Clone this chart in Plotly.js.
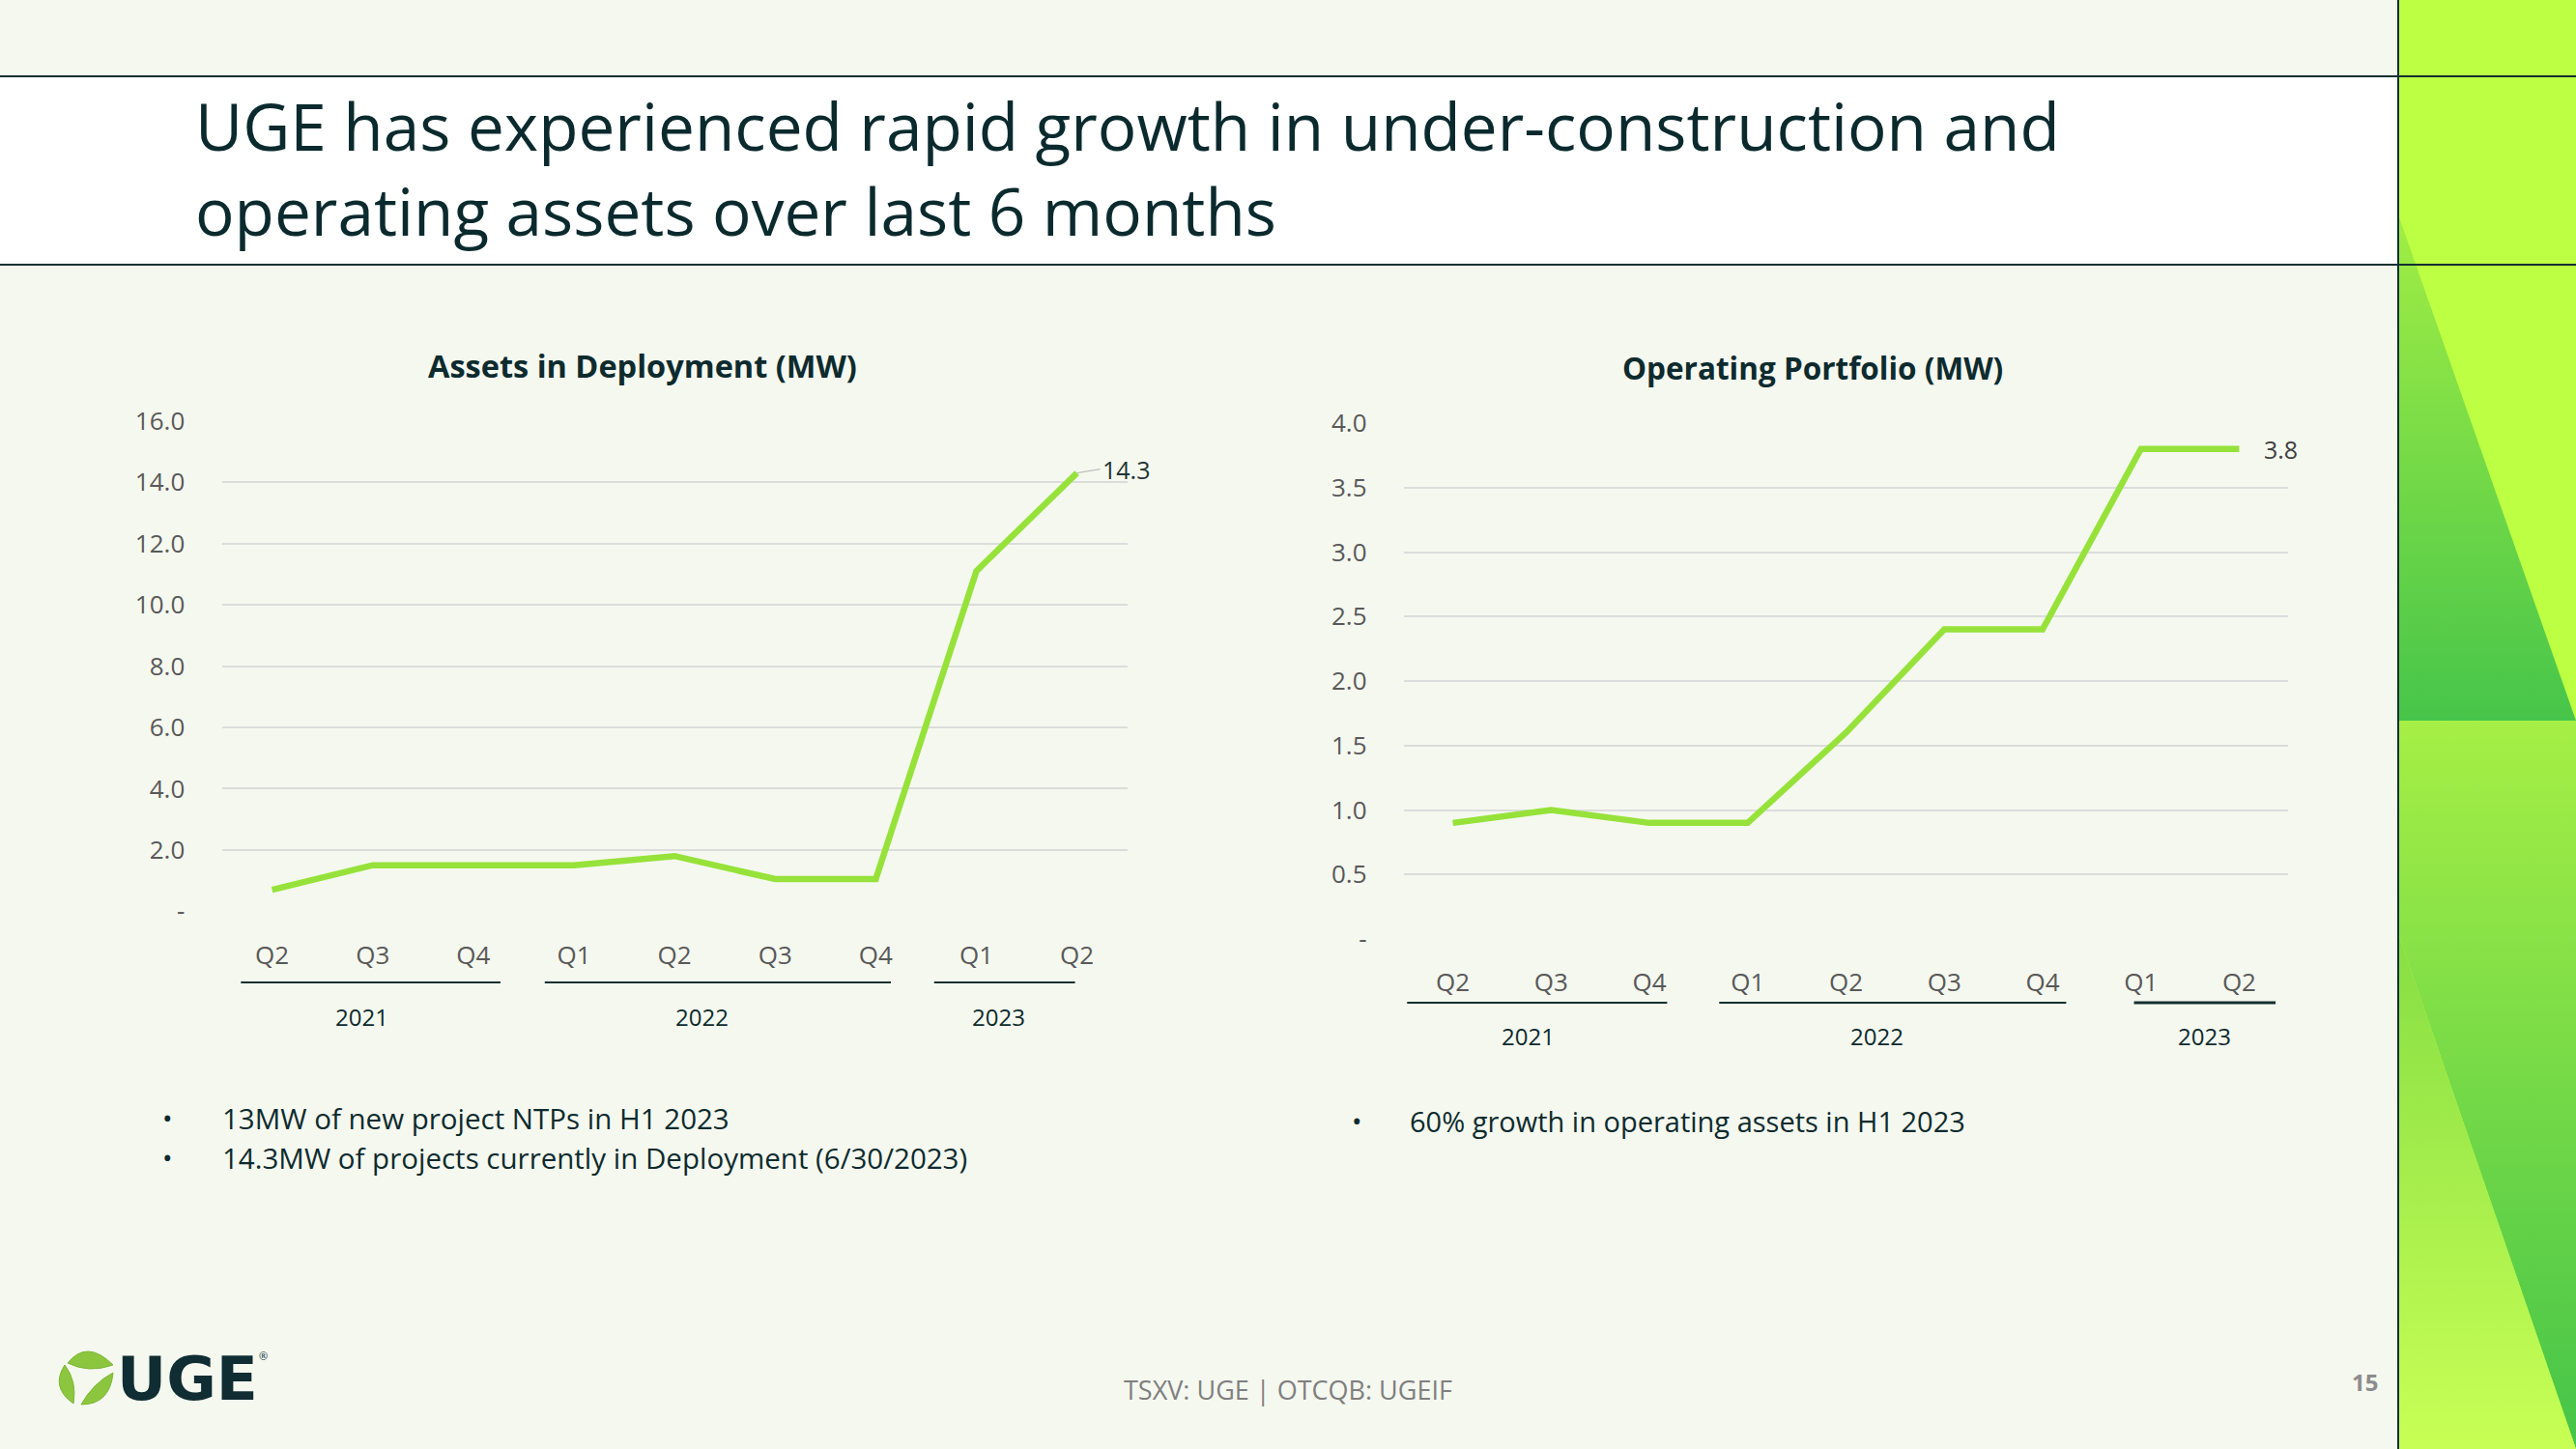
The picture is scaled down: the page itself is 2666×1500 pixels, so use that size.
<!DOCTYPE html>
<html>
<head>
<meta charset="utf-8">
<script src="https://cdn.plot.ly/plotly-3.0.1.min.js"></script>
<style>
  html, body { margin: 0; padding: 0; background: #F5F8EF; }
  #chart { width: 2666px; height: 1500px; }
</style>
</head>
<body>
<div id="chart"></div>
<script>
// ---------------- DATA ----------------
const quarters = ['Q2', 'Q3', 'Q4', 'Q1', 'Q2', 'Q3', 'Q4', 'Q1', 'Q2'];
const years    = ['2021', '2021', '2021', '2022', '2022', '2022', '2022', '2023', '2023'];
const deploymentMW = [0.7, 1.5, 1.5, 1.5, 1.8, 1.05, 1.05, 11.1, 14.3];
const operatingMW  = [0.9, 1.0, 0.9, 0.9, 1.6, 2.4, 2.4, 3.8, 3.8];
const deployTickVals = [0, 2, 4, 6, 8, 10, 12, 14, 16];
const operTickVals   = [0, 0.5, 1, 1.5, 2, 2.5, 3, 3.5, 4];
const deployTitle = 'Assets in Deployment (MW)';
const operTitle   = 'Operating Portfolio (MW)';
const pageTitle   = 'UGE has experienced rapid growth in under-construction and<br>operating assets over last 6 months';
const leftBullets  = ['13MW of new project NTPs in H1 2023', '14.3MW of projects currently in Deployment (6/30/2023)'];
const rightBullets = ['60% growth in operating assets in H1 2023'];
const footerText = 'TSXV: UGE | OTCQB: UGEIF';
const pageNumber = '15';

// ---------------- HELPERS ----------------
const W = 2666, H = 1500;
const px = x => x / W;
const py = y => 1 - y / H;
const FONT = 'Open Sans, Noto Sans, sans-serif';
const DARK = '#0D2B2E';
const LINE_GREEN = '#96E23A';
const idx = quarters.map((_, i) => i);
const tickText = v => (v === 0 ? '-' : v.toFixed(1));

// group years -> first/last index
function groups() {
  const out = [];
  years.forEach((y, i) => {
    const g = out.find(o => o.year === y);
    if (g) g.last = i; else out.push({ year: y, first: i, last: i });
  });
  return out;
}

// ---------------- TRACES ----------------
const traces = [
  { x: idx, y: deploymentMW, xaxis: 'x', yaxis: 'y', type: 'scatter', mode: 'lines',
    line: { color: LINE_GREEN, width: 6.5, shape: 'linear' }, hoverinfo: 'skip', showlegend: false },
  { x: idx, y: operatingMW, xaxis: 'x2', yaxis: 'y2', type: 'scatter', mode: 'lines',
    line: { color: LINE_GREEN, width: 6.5 }, hoverinfo: 'skip', showlegend: false },
  // decorative right strip (page-pixel overlay axes)
  { x: [2482, 2666, 2482, 2482], y: [222, 746, 746, 222], xaxis: 'x3', yaxis: 'y3', mode: 'lines',
    line: { width: 0 }, fill: 'toself', hoverinfo: 'skip', showlegend: false,
    fillgradient: { type: 'vertical', start: 222, stop: 746, colorscale: [[0, '#A2EE44'], [1, '#47C54A']] } },
  { x: [2482, 2666, 2666, 2482, 2482], y: [746, 746, 1500, 966, 746], xaxis: 'x3', yaxis: 'y3', mode: 'lines',
    line: { width: 0 }, fill: 'toself', hoverinfo: 'skip', showlegend: false,
    fillgradient: { type: 'vertical', start: 746, stop: 1500, colorscale: [[0, '#A6EF45'], [1, '#45C449']] } },
  { x: [2482, 2666, 2482, 2482], y: [966, 1500, 1500, 966], xaxis: 'x3', yaxis: 'y3', mode: 'lines',
    line: { width: 0 }, fill: 'toself', hoverinfo: 'skip', showlegend: false,
    fillgradient: { type: 'vertical', start: 966, stop: 1500, colorscale: [[0, '#86DE44'], [1, '#C8FF55']] } }
];

// ---------------- AXES ----------------
function xAxis(domain, anchor) {
  return {
    domain, anchor, range: [-0.5, quarters.length - 0.5],
    tickmode: 'array', tickvals: idx, ticktext: quarters,
    showgrid: false, zeroline: false, showline: false,
    ticks: 'outside', ticklen: 22, tickcolor: 'rgba(0,0,0,0)',
    tickfont: { family: FONT, size: 26, color: '#595959' }, fixedrange: true
  };
}
function yAxis(domain, anchor, vals) {
  return {
    domain, anchor, range: [vals[0], vals[vals.length - 1]],
    tickmode: 'array', tickvals: vals, ticktext: vals.map(tickText),
    showgrid: true, gridcolor: '#DCDCDC', gridwidth: 2,
    zeroline: false, showline: false,
    ticks: 'outside', ticklen: 32, tickcolor: 'rgba(0,0,0,0)',
    tickfont: { family: FONT, size: 26, color: '#595959' }, fixedrange: true
  };
}

// ---------------- SHAPES & ANNOTATIONS ----------------
const shapes = [
  { type: 'rect', xref: 'paper', yref: 'paper', x0: 0, x1: px(2482), y0: py(274), y1: py(79),
    fillcolor: '#FFFFFF', line: { width: 0 }, layer: 'below' },
  { type: 'rect', xref: 'paper', yref: 'paper', x0: px(2482), x1: 1, y0: 0, y1: 1,
    fillcolor: '#BDFF42', line: { width: 0 }, layer: 'below' },
  { type: 'line', xref: 'paper', yref: 'paper', x0: 0, x1: 1, y0: py(79), y1: py(79),
    line: { color: '#12302F', width: 2 }, layer: 'above' },
  { type: 'line', xref: 'paper', yref: 'paper', x0: 0, x1: 1, y0: py(274), y1: py(274),
    line: { color: '#12302F', width: 2 }, layer: 'above' },
  { type: 'line', xref: 'paper', yref: 'paper', x0: px(2482), x1: px(2482), y0: 0, y1: 1,
    line: { color: '#12302F', width: 2 }, layer: 'above' }
];

// UGE logo leaves (page pixel coordinates -> paper)
function leaf(pts) {
  const p = pts.map(([x, y]) => px(x) + ',' + py(y));
  return 'M' + p[0] + ' Q' + p[1] + ' ' + p[2] + ' Q' + p[3] + ' ' + p[0] + ' Z';
}
[
  [[70, 1411], [90, 1386], [117, 1413], [92, 1422]],
  [[67, 1413], [52, 1436], [76, 1453], [80, 1430]],
  [[84, 1454], [114, 1454], [117, 1421], [96, 1432]]
].forEach(l => shapes.push({ type: 'path', xref: 'paper', yref: 'paper', path: leaf(l),
  fillcolor: '#8CC63F', line: { color: '#7BB734', width: 1 }, layer: 'above' }));

const annotations = [];
// style: per-group underline pads [start, end] and label offset (in category units)
function addAxisGroups(xref, labelY, lineY, style) {
  groups().forEach((g, k) => {
    const s = style[k];
    shapes.push({ type: 'line', xref, yref: 'paper',
      x0: g.first + s.pad[0], x1: g.last + s.pad[1], y0: py(lineY), y1: py(lineY),
      line: { color: '#12302F', width: s.w } });
    annotations.push({ xref, yref: 'paper', x: (g.first + g.last) / 2 + s.off, y: py(labelY),
      text: g.year, showarrow: false, xanchor: 'center', yanchor: 'middle',
      font: { family: FONT, size: 24, color: DARK } });
  });
}
addAxisGroups('x', 1052, 1017, [
  { pad: [-0.31, 0.27], off: -0.11, w: 2 },
  { pad: [-0.29, 0.15], off: -0.23, w: 2 },
  { pad: [-0.42, -0.02], off: -0.28, w: 2 }
]);
addAxisGroups('x2', 1072, 1038, [
  { pad: [-0.465, 0.18], off: -0.23, w: 2 },
  { pad: [-0.29, 0.24], off: -0.19, w: 2 },
  { pad: [-0.07, 0.37], off: 0.15, w: 3 }
]);

// chart titles
annotations.push({ xref: 'paper', yref: 'paper', x: px(665), y: py(378), text: '<b>' + deployTitle + '</b>',
  showarrow: false, xanchor: 'center', yanchor: 'middle', font: { family: FONT, size: 32.5, color: DARK } });
annotations.push({ xref: 'paper', yref: 'paper', x: px(1876), y: py(380), text: '<b>' + operTitle + '</b>',
  showarrow: false, xanchor: 'center', yanchor: 'middle', font: { family: FONT, size: 31.5, color: DARK } });

// data labels
annotations.push({ xref: 'x', yref: 'y', x: idx[idx.length - 1], y: deploymentMW[deploymentMW.length - 1],
  text: String(deploymentMW[deploymentMW.length - 1].toFixed(1)), showarrow: true, arrowhead: 0, arrowwidth: 1.5,
  arrowcolor: '#BFBFBF', ax: 24, ay: -4, xanchor: 'left', standoff: 0,
  font: { family: FONT, size: 25, color: '#1E3434' } });
annotations.push({ xref: 'x2', yref: 'y2', x: idx[idx.length - 1], y: operatingMW[operatingMW.length - 1],
  text: operatingMW[operatingMW.length - 1].toFixed(1), showarrow: false, xanchor: 'left', xshift: 24,
  font: { family: FONT, size: 25, color: '#404040' } });

// page title
annotations.push({ xref: 'paper', yref: 'paper', x: px(200), y: py(174), text: pageTitle, align: 'left',
  showarrow: false, xanchor: 'left', yanchor: 'middle', font: { family: FONT, size: 67.5, color: '#0B2A2E' } });

// bullets
function addBullets(list, bx, tx, y0, dy, size) {
  list.forEach((t, i) => {
    annotations.push({ xref: 'paper', yref: 'paper', x: px(bx), y: py(y0 + i * dy), text: '•', showarrow: false,
      xanchor: 'center', yanchor: 'middle', font: { family: FONT, size: 28, color: DARK } });
    annotations.push({ xref: 'paper', yref: 'paper', x: px(tx), y: py(y0 + i * dy), text: t, showarrow: false,
      xanchor: 'left', yanchor: 'middle', font: { family: FONT, size, color: DARK } });
  });
}
addBullets(leftBullets, 173, 228, 1157, 41, 29.5);
addBullets(rightBullets, 1404, 1457, 1160, 41, 29);

// footer
annotations.push({ xref: 'paper', yref: 'paper', x: px(1333), y: py(1438), text: footerText, showarrow: false,
  xanchor: 'center', yanchor: 'middle', font: { family: FONT, size: 27, color: '#7F7F7F' } });
annotations.push({ xref: 'paper', yref: 'paper', x: px(2447), y: py(1430), text: '<b>' + pageNumber + '</b>', showarrow: false,
  xanchor: 'center', yanchor: 'middle', font: { family: FONT, size: 24, color: '#8C8C8C' } });
// logo text
annotations.push({ xref: 'paper', yref: 'paper', x: px(119), y: py(1427), text: '<b>UGE</b>', showarrow: false,
  xanchor: 'left', yanchor: 'middle', font: { family: 'DejaVu Sans, sans-serif', size: 63, color: '#0F2D33' } });
annotations.push({ xref: 'paper', yref: 'paper', x: px(272), y: py(1403), text: '®', showarrow: false,
  xanchor: 'center', yanchor: 'middle', font: { family: FONT, size: 11, color: '#0F2D33' } });

// ---------------- LAYOUT ----------------
const layout = {
  width: W, height: H,
  margin: { l: 0, r: 0, t: 0, b: 0, pad: 0 },
  paper_bgcolor: '#F5F8EF', plot_bgcolor: 'rgba(0,0,0,0)',
  showlegend: false,
  xaxis: xAxis([px(229.5), px(1166.7)], 'y'),
  yaxis: yAxis([py(943.3), py(435.7)], 'x', deployTickVals),
  xaxis2: xAxis([px(1452.7), px(2368.3)], 'y2'),
  yaxis2: yAxis([py(972), py(438)], 'x2', operTickVals),
  xaxis3: { domain: [0, 1], anchor: 'y3', range: [0, W], visible: false, fixedrange: true },
  yaxis3: { domain: [0, 1], anchor: 'x3', range: [H, 0], visible: false, fixedrange: true },
  shapes, annotations
};

Plotly.newPlot('chart', traces, layout, { displayModeBar: false, staticPlot: true });
</script>
</body>
</html>
